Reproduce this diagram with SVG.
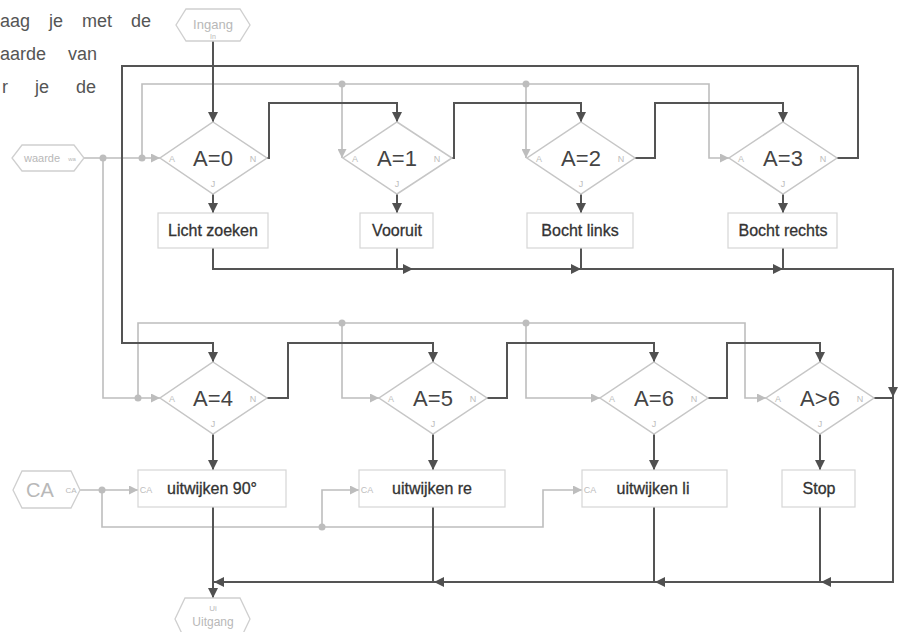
<svg xmlns="http://www.w3.org/2000/svg" width="901" height="632" viewBox="0 0 901 632">
<defs>
<style>
.dk{fill:none;stroke:#545454;stroke-width:2}
.lt{fill:none;stroke:#bdbdbd;stroke-width:1.6}
.dia{fill:#fff;stroke:#c6c6c6;stroke-width:1.5}
.box{fill:#fff;stroke:#d6d6d6;stroke-width:1.2}
.hex{fill:#fff;stroke:#cfcfcf;stroke-width:1.3}
text{font-family:"Liberation Sans",Arial,sans-serif}
.dt{font-size:22px;fill:#444;text-anchor:middle}
.bt{font-size:16px;fill:#333;stroke:#333;stroke-width:0.3;text-anchor:middle}
.pl{font-size:9px;fill:#bdbdbd;text-anchor:middle}
.ht{fill:#b8b8b8;text-anchor:middle}
.par{font-size:18px;fill:#555}
.dot{fill:#bdbdbd}
</style>
<marker id="ad" viewBox="0 0 10 10" refX="10" refY="5" markerWidth="13" markerHeight="10" markerUnits="userSpaceOnUse" orient="auto"><path d="M0,0 L10,5 L0,10 z" fill="#505050"/></marker>
<marker id="al" viewBox="0 0 10 10" refX="10" refY="5" markerWidth="13" markerHeight="9" markerUnits="userSpaceOnUse" orient="auto"><path d="M0,0 L10,5 L0,10 z" fill="#bdbdbd"/></marker>
</defs>
<rect width="901" height="632" fill="#fff"/>

<g id="paragraph">
<text class="par" x="0" y="27" word-spacing="14">aag je met de</text>
<text class="par" x="0" y="60" word-spacing="17">aarde van</text>
<text class="par" x="2" y="93" word-spacing="22">r je de</text>
</g>

<g id="connectors">
<path class="lt" d="M84,158 H160" marker-end="url(#al)"/>
<path class="lt" d="M103,158 V398 H160" marker-end="url(#al)"/>
<path class="lt" d="M142,158 V84 H709 V158 H729" marker-end="url(#al)"/>
<path class="lt" d="M342,84 V158" marker-end="url(#al)"/>
<path class="lt" d="M526,84 V158" marker-end="url(#al)"/>
<path class="lt" d="M138,398 V323 H745 V398 H766" marker-end="url(#al)"/>
<path class="lt" d="M342,323 V398 H379" marker-end="url(#al)"/>
<path class="lt" d="M526,323 V398 H600" marker-end="url(#al)"/>
<path class="lt" d="M80,490 H138" marker-end="url(#al)"/>
<path class="lt" d="M102,490 V527 H543 V490 H582" marker-end="url(#al)"/>
<path class="lt" d="M322,527 V490 H359" marker-end="url(#al)"/>
<circle class="dot" cx="103" cy="158" r="3.5"/>
<circle class="dot" cx="142" cy="158" r="3.5"/>
<circle class="dot" cx="342" cy="84" r="3.5"/>
<circle class="dot" cx="526" cy="84" r="3.5"/>
<circle class="dot" cx="138" cy="398" r="3.5"/>
<circle class="dot" cx="342" cy="323" r="3.5"/>
<circle class="dot" cx="526" cy="323" r="3.5"/>
<circle class="dot" cx="102" cy="490" r="3.5"/>
<circle class="dot" cx="322" cy="527" r="3.5"/>

<path class="dk" d="M213,41 V122" marker-end="url(#ad)"/>
<path class="dk" d="M837,158 H858 V66 H122 V343 H213 V362" marker-end="url(#ad)"/>
<path class="dk" d="M267,158 H269 V103 H397 V122" marker-end="url(#ad)"/>
<path class="dk" d="M452,158 H454 V103 H581 V122" marker-end="url(#ad)"/>
<path class="dk" d="M635,158 H655 V103 H783 V122" marker-end="url(#ad)"/>
<path class="dk" d="M267,398 H288 V343 H433 V362" marker-end="url(#ad)"/>
<path class="dk" d="M487,398 H507 V343 H654 V362" marker-end="url(#ad)"/>
<path class="dk" d="M708,398 H727 V343 H820 V362" marker-end="url(#ad)"/>
<path class="dk" d="M874,398 H893"/>
<path class="dk" d="M213,194 V213" marker-end="url(#ad)"/>
<path class="dk" d="M397,194 V213" marker-end="url(#ad)"/>
<path class="dk" d="M581,194 V213" marker-end="url(#ad)"/>
<path class="dk" d="M783,194 V213" marker-end="url(#ad)"/>
<path class="dk" d="M213,434 V470" marker-end="url(#ad)"/>
<path class="dk" d="M433,434 V470" marker-end="url(#ad)"/>
<path class="dk" d="M654,434 V470" marker-end="url(#ad)"/>
<path class="dk" d="M820,434 V470" marker-end="url(#ad)"/>
<path class="dk" d="M213,248 V269 H893 V582 H213 V598" marker-end="url(#ad)"/>
<path class="dk" d="M397,248 V269"/>
<path class="dk" d="M581,248 V269"/>
<path class="dk" d="M783,248 V269"/>
<path class="dk" d="M213,507 V582"/>
<path class="dk" d="M433,507 V582"/>
<path class="dk" d="M654,507 V582"/>
<path class="dk" d="M820,507 V582"/>
<path class="dk" d="M400,269 H413" marker-end="url(#ad)"/>
<path class="dk" d="M568,269 H581" marker-end="url(#ad)"/>
<path class="dk" d="M770,269 H783" marker-end="url(#ad)"/>
<path class="dk" d="M893,384 V397" marker-end="url(#ad)"/>
<path class="dk" d="M228,582 H214" marker-end="url(#ad)"/>
<path class="dk" d="M448,582 H434" marker-end="url(#ad)"/>
<path class="dk" d="M669,582 H655" marker-end="url(#ad)"/>
<path class="dk" d="M835,582 H821" marker-end="url(#ad)"/>
</g>

<g id="ingang">
<polygon class="hex" points="186,9 240,9 250,25 240,41 186,41 176,25"/>
<text class="ht" x="213" y="29" font-size="13">Ingang</text>
<text class="ht" x="213" y="39" font-size="7">In</text>
</g>
<g id="waarde">
<polygon class="hex" points="22,145 74,145 84,158 74,171 22,171 12,158"/>
<text class="ht" x="42" y="162" font-size="11">waarde</text>
<text class="ht" x="72" y="161" font-size="6">wa</text>
</g>
<g id="ca">
<polygon class="hex" points="22,471 71,471 80,490 71,508 22,508 13,490"/>
<text class="ht" x="40" y="497" font-size="20">CA</text>
<text class="ht" x="71" y="493" font-size="8">CA</text>
</g>
<g id="uitgang">
<polygon class="hex" points="185,598 240,598 250,619 240,640 185,640 175,619"/>
<text class="ht" x="213" y="611" font-size="8">Ui</text>
<text class="ht" x="213" y="626" font-size="12">Uitgang</text>
</g>

<g id="d0"><polygon class="dia" points="213,122 267,158 213,194 160,158"/><text class="dt" x="213" y="166">A=0</text><text class="pl" x="172" y="162">A</text><text class="pl" x="253" y="162">N</text><text class="pl" x="213" y="187">J</text></g>
<g id="d1"><polygon class="dia" points="397,122 452,158 397,194 343,158"/><text class="dt" x="397" y="166">A=1</text><text class="pl" x="355" y="162">A</text><text class="pl" x="437" y="162">N</text><text class="pl" x="397" y="187">J</text></g>
<g id="d2"><polygon class="dia" points="581,122 635,158 581,194 527,158"/><text class="dt" x="581" y="166">A=2</text><text class="pl" x="539" y="162">A</text><text class="pl" x="621" y="162">N</text><text class="pl" x="581" y="187">J</text></g>
<g id="d3"><polygon class="dia" points="783,122 837,158 783,194 729,158"/><text class="dt" x="783" y="166">A=3</text><text class="pl" x="741" y="162">A</text><text class="pl" x="823" y="162">N</text><text class="pl" x="783" y="187">J</text></g>
<g id="d4"><polygon class="dia" points="213,362 267,398 213,434 160,398"/><text class="dt" x="213" y="406">A=4</text><text class="pl" x="172" y="402">A</text><text class="pl" x="253" y="402">N</text><text class="pl" x="213" y="427">J</text></g>
<g id="d5"><polygon class="dia" points="433,362 487,398 433,434 379,398"/><text class="dt" x="433" y="406">A=5</text><text class="pl" x="391" y="402">A</text><text class="pl" x="473" y="402">N</text><text class="pl" x="433" y="427">J</text></g>
<g id="d6"><polygon class="dia" points="654,362 708,398 654,434 600,398"/><text class="dt" x="654" y="406">A=6</text><text class="pl" x="612" y="402">A</text><text class="pl" x="694" y="402">N</text><text class="pl" x="654" y="427">J</text></g>
<g id="d7"><polygon class="dia" points="820,362 874,398 820,434 766,398"/><text class="dt" x="820" y="406">A&gt;6</text><text class="pl" x="778" y="402">A</text><text class="pl" x="860" y="402">N</text><text class="pl" x="820" y="427">J</text></g>

<g id="b0"><rect class="box" x="158" y="213" width="110" height="35"/><text class="bt" x="213" y="236">Licht zoeken</text></g>
<g id="b1"><rect class="box" x="360" y="213" width="73" height="35"/><text class="bt" x="397" y="236">Vooruit</text></g>
<g id="b2"><rect class="box" x="527" y="213" width="106" height="35"/><text class="bt" x="580" y="236">Bocht links</text></g>
<g id="b3"><rect class="box" x="728" y="213" width="109" height="35"/><text class="bt" x="783" y="236">Bocht rechts</text></g>
<g id="b4"><rect class="box" x="138" y="470" width="148" height="37"/><text class="bt" x="212" y="494">uitwijken 90°</text><text class="pl" x="146" y="493" font-size="8">CA</text></g>
<g id="b5"><rect class="box" x="359" y="470" width="146" height="37"/><text class="bt" x="432" y="494">uitwijken re</text><text class="pl" x="367" y="493" font-size="8">CA</text></g>
<g id="b6"><rect class="box" x="582" y="470" width="145" height="37"/><text class="bt" x="653" y="494">uitwijken li</text><text class="pl" x="590" y="493" font-size="8">CA</text></g>
<g id="b7"><rect class="box" x="782" y="470" width="73" height="37"/><text class="bt" x="819" y="494">Stop</text></g>
</svg>
